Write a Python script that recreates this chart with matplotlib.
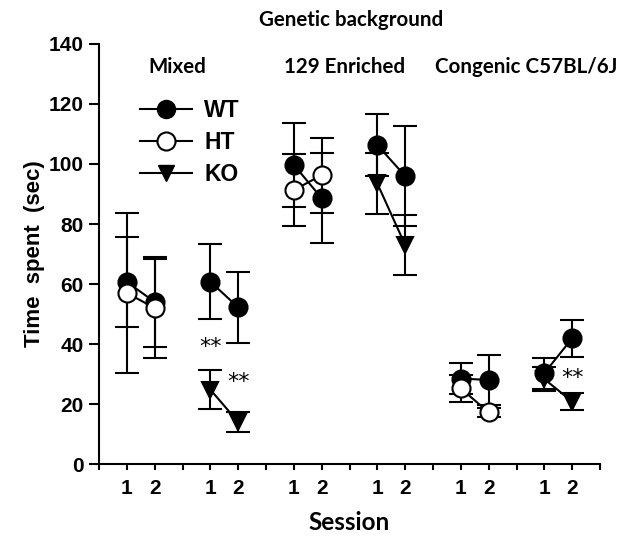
import matplotlib.pyplot as plt
from matplotlib.lines import Line2D

# x positions: first pair (WT vs HT) and second pair (WT vs KO) for each background
pos_first = [1, 2, 7, 8, 13, 14]
pos_second = [4, 5, 10, 11, 16, 17]

wt_first_mean = [60.7, 54.0, 99.7, 88.6, 28.5, 28.0]
wt_first_err = [15.0, 15.0, 14.0, 15.0, 5.1, 8.3]
ht_mean = [57.0, 52.0, 91.3, 96.3, 25.2, 17.2]
ht_err = [26.5, 16.5, 12.0, 12.5, 4.5, 1.5]

wt_second_mean = [60.8, 52.2, 106.3, 96.0, 30.3, 41.9]
wt_second_err = [12.5, 11.8, 10.4, 16.7, 5.2, 6.1]
ko_mean = [24.8, 14.0, 93.5, 73.0, 28.3, 20.8]
ko_err = [6.5, 3.2, 10.3, 10.0, 4.0, 2.9]

backgrounds = ['Mixed', '129 Enriched', 'Congenic C57BL/6J']
background_x = [2.83, 8.84, 15.34]
stars_x = [4, 5, 17]
stars_y = [39, 27.4, 28.5]

tick_pos = list(range(19))
tick_labels = ['1' if i in (1, 4, 7, 10, 13, 16) else '2' if i in (2, 5, 8, 11, 14, 17) else ''
               for i in tick_pos]


def draw(ax, x, y, err, marker, face, ms):
    for k in range(0, len(x), 2):
        ax.errorbar(x[k:k + 2], y[k:k + 2], yerr=err[k:k + 2], fmt=marker,
                    ls='-', color='black', mfc=face, mec='black', mew=1.5,
                    ms=ms, lw=1.5, elinewidth=1.5, capsize=8.5, capthick=1.5)


def main():
    fig = plt.figure(figsize=(6.24, 5.46), dpi=100)
    ax = fig.add_axes([99 / 624, 82 / 546, 501 / 624, 420 / 546])

    draw(ax, pos_first, wt_first_mean, wt_first_err, 'o', 'black', 13)
    draw(ax, pos_first, ht_mean, ht_err, 'o', 'white', 13)
    draw(ax, pos_second, ko_mean, ko_err, 'v', 'black', 12)
    draw(ax, pos_second, wt_second_mean, wt_second_err, 'o', 'black', 13)

    for sx, sy in zip(stars_x, stars_y):
        ax.text(sx, sy, '**', ha='center', va='center', fontsize=16)

    for name, bx in zip(backgrounds, background_x):
        ax.text(bx, 132.3, name, ha='center', va='center', fontsize=14.8,
                fontweight='bold', family='Lato')
    fig.text(351 / 624, 1 - 20 / 546, 'Genetic background', ha='center', va='center',
             fontsize=14.8, fontweight='bold', family='Lato')

    handles = [
        Line2D([], [], color='black', marker='o', mfc='black', mec='black', ms=13, lw=1.5, label='WT'),
        Line2D([], [], color='black', marker='o', mfc='white', mec='black', mew=1.5, ms=13, lw=1.5, label='HT'),
        Line2D([], [], color='black', marker='v', mfc='black', mec='black', ms=12, lw=1.5, label='KO'),
    ]
    ax.legend(handles=handles, loc='upper left', bbox_to_anchor=(0.082, 0.868),
              frameon=False, borderpad=0, borderaxespad=0, handlelength=2.25,
              labelspacing=0.38, handletextpad=0.55,
              prop={'family': 'Liberation Sans', 'weight': 'bold', 'size': 16.5})

    ax.set_xlim(0, 18)
    ax.set_ylim(0, 140)
    ax.set_yticks(range(0, 141, 20))
    ax.set_xticks(tick_pos)
    ax.set_xticklabels(tick_labels)
    for side in ('top', 'right'):
        ax.spines[side].set_visible(False)
    for side in ('left', 'bottom'):
        ax.spines[side].set_linewidth(1.5)
    ax.tick_params(axis='y', width=1.5, length=7, pad=4, labelsize=15)
    ax.tick_params(axis='x', width=1.5, length=4, pad=6.5, labelsize=15)
    for lab in ax.get_xticklabels() + ax.get_yticklabels():
        lab.set_fontweight('bold')
        lab.set_family('Liberation Sans')

    ax.set_xlabel('Session', fontsize=17.5, fontweight='bold', family='Lato', labelpad=10)
    ax.set_ylabel('Time  spent  (sec)', fontsize=16, fontweight='bold',
                  family='Liberation Sans', labelpad=2.5)

    fig.savefig('out.png', dpi=100)


if __name__ == '__main__':
    main()
